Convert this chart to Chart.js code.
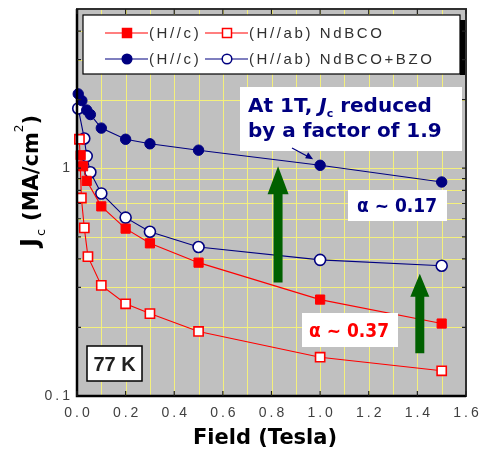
<!DOCTYPE html>
<html>
<head>
<meta charset="utf-8">
<title>Jc vs field, NdBCO and NdBCO+BZO at 77 K</title>
<script src="https://cdn.jsdelivr.net/npm/chart.js@4.4.1/dist/chart.umd.min.js"></script>
<style>
  html, body { margin: 0; padding: 0; background: #fff; }
  #wrap { width: 484px; height: 453px; }
</style>
</head>
<body>
<div id="wrap"><canvas id="jcChart" width="484" height="453"></canvas></div>
<script>
// Jc (MA/cm2) against applied field (T), 77 K
const fieldNdHc = [0.015, 0.025, 0.04, 0.1, 0.2, 0.3, 0.5, 1.0, 1.5];
const jcNdHc    = [1.14, 1.02, 0.88, 0.68, 0.543, 0.468, 0.385, 0.265, 0.208];

const fieldNdHab = [0.01, 0.018, 0.03, 0.045, 0.1, 0.2, 0.3, 0.5, 1.0, 1.5];
const jcNdHab    = [1.34, 0.74, 0.547, 0.409, 0.306, 0.254, 0.230, 0.192, 0.148, 0.129];

const fieldBzoHc = [0.005, 0.02, 0.04, 0.055, 0.1, 0.2, 0.3, 0.5, 1.0, 1.5];
const jcBzoHc    = [2.12, 1.98, 1.80, 1.72, 1.50, 1.34, 1.28, 1.20, 1.03, 0.87];

const fieldBzoHab = [0.005, 0.03, 0.04, 0.055, 0.1, 0.2, 0.3, 0.5, 1.0, 1.5];
const jcBzoHab    = [1.83, 1.35, 1.13, 0.96, 0.775, 0.607, 0.526, 0.451, 0.396, 0.373];

const xTickValues = [0, 0.2, 0.4, 0.6, 0.8, 1.0, 1.2, 1.4, 1.6];
const xTickLabels = ['0.0', '0.2', '0.4', '0.6', '0.8', '1.0', '1.2', '1.4', '1.6'];
const xGridValues = [0.1, 0.2, 0.3, 0.4, 0.5, 0.6, 0.7, 0.8, 0.9, 1.0, 1.1, 1.2, 1.3, 1.4, 1.5];

const yTickValues = [0.1, 1];
const yTickLabels = ['0.1', '1'];
const yGridValues = [0.2, 0.3, 0.4, 0.5, 0.6, 0.7, 0.8, 0.9, 1, 2, 3, 4];

const RED = '#ff0000';
const NAVY = '#000080';
const GREEN = '#006000';
const GRID = '#f4f07c';

function toPoints(xs, ys) {
    return xs.map((x, i) => ({ x: x, y: ys[i] }));
}

function spacedText(ctx, text, x, y, align, spacing) {
    ctx.letterSpacing = spacing + 'px';
    ctx.textAlign = 'left';
    const w = ctx.measureText(text).width - spacing;
    let left = x;
    if (align === 'center') left = x - w / 2;
    if (align === 'right') left = x - w;
    ctx.fillText(text, left, y);
    ctx.letterSpacing = '0px';
}

// runs: [{ t, font, dy }] drawn one after another along the baseline
function drawRuns(ctx, runs, x, y) {
    ctx.textAlign = 'left';
    runs.forEach(r => {
        ctx.font = r.font;
        ctx.fillText(r.t, x, y + (r.dy || 0));
        x += ctx.measureText(r.t).width + (r.gap || 0);
    });
}

function upArrow(ctx, x, yTip, yTail, shaftW, headW, headH) {
    ctx.beginPath();
    ctx.moveTo(x, yTip);
    ctx.lineTo(x + headW / 2, yTip + headH);
    ctx.lineTo(x + shaftW / 2, yTip + headH);
    ctx.lineTo(x + shaftW / 2, yTail);
    ctx.lineTo(x - shaftW / 2, yTail);
    ctx.lineTo(x - shaftW / 2, yTip + headH);
    ctx.lineTo(x - headW / 2, yTip + headH);
    ctx.closePath();
    ctx.fill();
}

function whiteBox(ctx, x, y, w, h, border) {
    ctx.fillStyle = '#fff';
    ctx.fillRect(x, y, w, h);
    if (border) {
        ctx.strokeStyle = '#000';
        ctx.lineWidth = 1.5;
        ctx.strokeRect(x, y, w, h);
    }
}

const decor = {
    id: 'decor',
    beforeDatasetsDraw(chart) {
        const { ctx, chartArea: a } = chart;
        const xs = chart.scales.x, ys = chart.scales.y;
        ctx.save();
        ctx.fillStyle = '#c0c0c0';
        ctx.fillRect(a.left, a.top, a.right - a.left, a.bottom - a.top);

        // yellow grid at every 0.1 T and every minor decade step
        ctx.strokeStyle = GRID;
        ctx.lineWidth = 1;
        ctx.beginPath();
        xGridValues.forEach(v => {
            const x = Math.round(xs.getPixelForValue(v)) + 0.5;
            ctx.moveTo(x, a.top); ctx.lineTo(x, a.bottom);
        });
        yGridValues.forEach(v => {
            const y = Math.round(ys.getPixelForValue(v)) + 0.5;
            ctx.moveTo(a.left, y); ctx.lineTo(a.right, y);
        });
        ctx.stroke();
        ctx.restore();
    },
    afterDatasetsDraw(chart) {
        const { ctx } = chart;
        const xs = chart.scales.x, ys = chart.scales.y;
        ctx.save();

        // green arrows showing the H//c gain from BZO
        ctx.fillStyle = GREEN;
        upArrow(ctx, xs.getPixelForValue(0.827), ys.getPixelForValue(1.02), ys.getPixelForValue(0.315), 9, 21, 28);
        upArrow(ctx, xs.getPixelForValue(1.41), ys.getPixelForValue(0.344), ys.getPixelForValue(0.154), 9, 19, 23);

        // text box: reduction at 1 T
        whiteBox(ctx, 240, 87, 222, 64, false);
        ctx.fillStyle = NAVY;
        const bold = 'bold 20px "DejaVu Sans"';
        drawRuns(ctx, [
            { t: 'At 1T, ', font: bold },
            { t: 'J', font: 'italic bold 20px "DejaVu Sans"' },
            { t: 'c', font: 'bold 11px "DejaVu Sans"', dy: 5 },
            { t: ' reduced', font: bold }
        ], 248, 112);
        drawRuns(ctx, [{ t: 'by a factor of 1.9', font: bold }], 248, 137);

        // small pointer to the 1 T point
        const px = xs.getPixelForValue(1.0), py = ys.getPixelForValue(1.03);
        ctx.strokeStyle = NAVY;
        ctx.lineWidth = 1.3;
        ctx.beginPath();
        ctx.moveTo(292, 148);
        ctx.lineTo(px - 9, py - 7);
        ctx.stroke();
        ctx.beginPath();
        ctx.moveTo(px - 7, py - 6);
        ctx.lineTo(px - 15, py - 7);
        ctx.lineTo(px - 12, py - 13);
        ctx.closePath();
        ctx.fill();

        // alpha boxes
        whiteBox(ctx, 348, 190, 99, 31, false);
        ctx.fillStyle = NAVY;
        ctx.font = 'bold 19px "DejaVu Sans"';
        ctx.textAlign = 'left';
        ctx.fillText('\u03b1 ~ 0.17', 357, 212, 80);

        whiteBox(ctx, 302, 313, 96, 34, false);
        ctx.fillStyle = RED;
        ctx.fillText('\u03b1 ~ 0.37', 309, 337, 80);

        // temperature label
        whiteBox(ctx, 87, 346, 55, 35, true);
        ctx.fillStyle = '#202020';
        ctx.font = 'bold 20px "Liberation Sans"';
        ctx.textAlign = 'center';
        ctx.fillText('77 K', 114.5, 371);

        // legend with drop shadow
        ctx.fillStyle = '#000';
        ctx.fillRect(460, 20, 6, 55);
        whiteBox(ctx, 83, 15, 377, 59, false);
        ctx.strokeStyle = '#000';
        ctx.lineWidth = 1.2;
        ctx.strokeRect(83, 15, 377, 59);

        const rows = [
            { y: 33, color: RED, items: [
                { x: 105, filled: true, shape: 'rect', label: '(H//c)' },
                { x: 205, filled: false, shape: 'rect', label: '(H//ab) NdBCO' }
            ] },
            { y: 59, color: NAVY, items: [
                { x: 105, filled: true, shape: 'circle', label: '(H//c)' },
                { x: 205, filled: false, shape: 'circle', label: '(H//ab) NdBCO+BZO' }
            ] }
        ];
        rows.forEach(row => {
            row.items.forEach(it => {
                ctx.strokeStyle = row.color;
                ctx.lineWidth = 1.2;
                ctx.beginPath();
                ctx.moveTo(it.x, row.y);
                ctx.lineTo(it.x + 43, row.y);
                ctx.stroke();
                const mx = it.x + 22;
                ctx.fillStyle = it.filled ? row.color : '#fff';
                ctx.lineWidth = 1.5;
                ctx.beginPath();
                if (it.shape === 'rect') ctx.rect(mx - 4.5, row.y - 4.5, 9, 9);
                else ctx.arc(mx, row.y, 4.8, 0, Math.PI * 2);
                ctx.fill();
                ctx.stroke();
                ctx.fillStyle = '#303030';
                ctx.font = '15px "Liberation Sans"';
                ctx.textBaseline = 'middle';
                spacedText(ctx, it.label, it.x + 44, row.y + 1, 'left', 2.6);
                ctx.textBaseline = 'alphabetic';
            });
        });
        ctx.restore();
    },
    afterDraw(chart) {
        const { ctx, chartArea: a } = chart;
        const xs = chart.scales.x, ys = chart.scales.y;
        ctx.save();

        // frame: dark top/right, black axes left/bottom
        ctx.strokeStyle = '#303030';
        ctx.lineWidth = 2;
        ctx.strokeRect(a.left, a.top, a.right - a.left, a.bottom - a.top);
        ctx.strokeStyle = '#000';
        ctx.lineWidth = 2.5;
        ctx.beginPath();
        ctx.moveTo(a.left, a.top);
        ctx.lineTo(a.left, a.bottom);
        ctx.lineTo(a.right, a.bottom);
        ctx.stroke();

        // inward ticks
        ctx.strokeStyle = '#202020';
        ctx.lineWidth = 1.2;
        ctx.beginPath();
        xTickValues.forEach(v => {
            const x = xs.getPixelForValue(v);
            ctx.moveTo(x, a.top); ctx.lineTo(x, a.top + 5);
            ctx.moveTo(x, a.bottom); ctx.lineTo(x, a.bottom - 5);
        });
        yGridValues.forEach(v => {
            const y = ys.getPixelForValue(v);
            ctx.moveTo(a.left, y); ctx.lineTo(a.left + 4, y);
            ctx.moveTo(a.right, y); ctx.lineTo(a.right - 4, y);
        });
        ctx.stroke();

        // tick labels
        ctx.fillStyle = '#404040';
        ctx.font = '14px "Liberation Sans"';
        ctx.textBaseline = 'alphabetic';
        xTickValues.forEach((v, i) => {
            spacedText(ctx, xTickLabels[i], xs.getPixelForValue(v), a.bottom + 21, 'center', 3);
        });
        ctx.textBaseline = 'middle';
        yTickValues.forEach((v, i) => {
            spacedText(ctx, yTickLabels[i], a.left - 7, ys.getPixelForValue(v), 'right', 3);
        });
        ctx.textBaseline = 'alphabetic';

        // axis titles
        ctx.fillStyle = '#000';
        ctx.font = 'bold 21px "DejaVu Sans"';
        ctx.textAlign = 'center';
        ctx.fillText('Field (Tesla)', 265, 444);

        ctx.translate(38, 248);
        ctx.rotate(-Math.PI / 2);
        const tb = 'bold 21px "DejaVu Sans"';
        drawRuns(ctx, [
            { t: 'J', font: 'bold 24px "DejaVu Sans"', gap: 2 },
            { t: 'c', font: '13px "DejaVu Sans"', dy: 7, gap: 8 },
            { t: '(MA/cm', font: tb },
            { t: '2', font: '12px "DejaVu Sans"', dy: -15 },
            { t: ')', font: tb }
        ], 1, 0);
        ctx.restore();
    }
};

const datasets = [
    {
        label: '(H//c) NdBCO',
        data: toPoints(fieldNdHc, jcNdHc),
        borderColor: RED, borderWidth: 1.1,
        pointStyle: 'rect', pointRadius: 6.5,
        pointBackgroundColor: RED, pointBorderColor: RED, pointBorderWidth: 1
    },
    {
        label: '(H//ab) NdBCO',
        data: toPoints(fieldNdHab, jcNdHab),
        borderColor: RED, borderWidth: 1.1,
        pointStyle: 'rect', pointRadius: 6.5,
        pointBackgroundColor: '#fff', pointBorderColor: RED, pointBorderWidth: 1.6
    },
    {
        label: '(H//c) NdBCO+BZO',
        data: toPoints(fieldBzoHc, jcBzoHc),
        borderColor: NAVY, borderWidth: 1.1,
        pointStyle: 'circle', pointRadius: 5.2,
        pointBackgroundColor: NAVY, pointBorderColor: NAVY, pointBorderWidth: 1
    },
    {
        label: '(H//ab) NdBCO+BZO',
        data: toPoints(fieldBzoHab, jcBzoHab),
        borderColor: NAVY, borderWidth: 1.1,
        pointStyle: 'circle', pointRadius: 5.5,
        pointBackgroundColor: '#fff', pointBorderColor: NAVY, pointBorderWidth: 1.6
    }
];
datasets.forEach(d => { d.tension = 0; d.clip = 8; });

new Chart(document.getElementById('jcChart'), {
    type: 'line',
    data: { datasets: datasets },
    options: {
        responsive: false,
        animation: false,
        layout: { padding: { left: 0, top: 9, right: 18, bottom: 0 } },
        plugins: { legend: { display: false }, tooltip: { enabled: false } },
        scales: {
            x: {
                type: 'linear', min: 0, max: 1.6,
                afterFit: s => { s.height = 57; },
                ticks: { display: false },
                grid: { display: false },
                border: { display: false }
            },
            y: {
                type: 'logarithmic', min: 0.1, max: 5,
                afterFit: s => { s.width = 77; },
                ticks: { display: false },
                grid: { display: false },
                border: { display: false }
            }
        }
    },
    plugins: [decor]
});
</script>
</body>
</html>
